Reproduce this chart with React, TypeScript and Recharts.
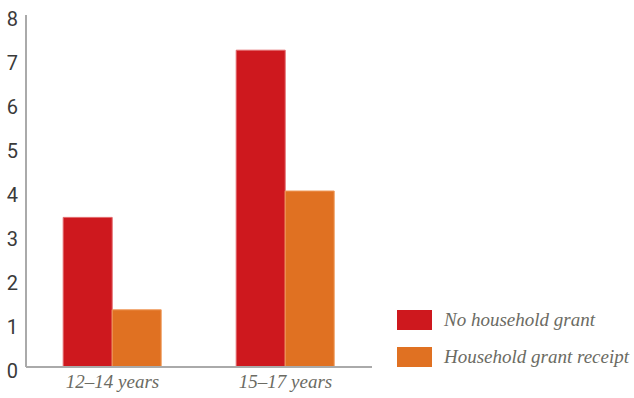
import React from 'react';
import { BarChart, Bar, XAxis, YAxis } from 'recharts';

const categories = ['12–14 years', '15–17 years'];
const noGrant = [3.4, 7.2];
const grantReceipt = [1.3, 4.0];
const yTicks = [0, 1, 2, 3, 4, 5, 6, 7, 8];
const seriesNames = ['No household grant', 'Household grant receipt'];

const RED = '#CE181E';
const ORANGE = '#E07122';
const SERIF = "'Liberation Serif', 'DejaVu Serif', serif";

const data = categories.map((name, i) => ({
    name,
    noGrant: noGrant[i],
    grantReceipt: grantReceipt[i],
}));

const legendItems = [
    { label: seriesNames[0], color: RED },
    { label: seriesNames[1], color: ORANGE },
];

export default function App() {
    return (
        <div style={{ position: 'absolute', left: 0, top: 0, width: 634, height: 398, background: '#fff' }}>
            <BarChart
                width={634}
                height={398}
                data={data}
                margin={{ top: 15, right: 262, left: 0, bottom: 0 }}
                barGap={0}
                barCategoryGap="21.5%"
            >
                <XAxis
                    dataKey="name"
                    axisLine={{ stroke: '#aaaaaa', strokeWidth: 2 }}
                    tickLine={false}
                    height={31}
                    tickSize={0}
                    tickMargin={8}
                    tick={{ fill: '#6b6b63', fontSize: 19, fontFamily: SERIF, fontStyle: 'italic' }}
                />
                <YAxis
                    width={26}
                    domain={[0, 8]}
                    ticks={yTicks}
                    interval={0}
                    axisLine={{ stroke: '#aaaaaa', strokeWidth: 2 }}
                    tickLine={false}
                    tickSize={0}
                    tickMargin={8}
                    tick={{ fill: '#3a3a3a', fontSize: 20, dy: 4, fontFamily: "'Liberation Sans Narrow', Roboto, sans-serif" }}
                />
                <Bar dataKey="noGrant" name={seriesNames[0]} fill={RED} stroke="#e2686c" strokeWidth={1} isAnimationActive={false} />
                <Bar dataKey="grantReceipt" name={seriesNames[1]} fill={ORANGE} stroke="#ef9a5c" strokeWidth={1} isAnimationActive={false} />
            </BarChart>
            <div style={{ position: 'absolute', left: 397, top: 301, width: 237 }}>
                {legendItems.map((p, i) => (
                    <div key={i} style={{ display: 'flex', alignItems: 'center', height: 37 }}>
                        <div style={{ width: 35, height: 20, background: p.color, marginRight: 12, flexShrink: 0 }} />
                        <span style={{ fontFamily: SERIF, fontStyle: 'italic', fontSize: 19, color: '#6b6b63', whiteSpace: 'nowrap' }}>
                            {p.label}
                        </span>
                    </div>
                ))}
            </div>
        </div>
    );
}
